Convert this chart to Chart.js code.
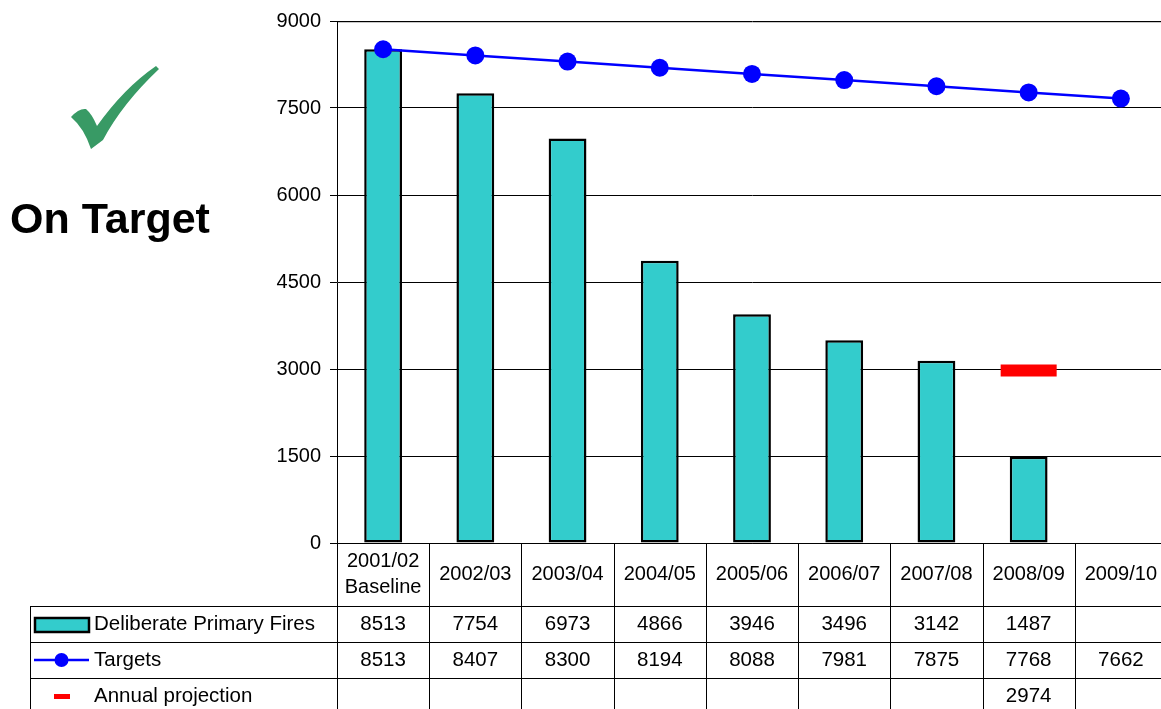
<!DOCTYPE html>
<html>
<head>
<meta charset="utf-8">
<script src="https://cdn.jsdelivr.net/npm/chart.js@4.4.0/dist/chart.umd.min.js"></script>
<style>
  html, body { margin: 0; padding: 0; background: #fff; overflow: hidden; }
  #wrap { position: relative; width: 1161px; height: 709px; overflow: hidden; }
  canvas { position: absolute; left: 0; top: 0; }
</style>
</head>
<body>
<div id="wrap"><canvas id="chart" width="1210" height="709"></canvas></div>
<script>
const categories = [["2001/02", "Baseline"], "2002/03", "2003/04", "2004/05", "2005/06", "2006/07", "2007/08", "2008/09", "2009/10"];
const fires = [8513, 7754, 6973, 4866, 3946, 3496, 3142, 1487, null];
const targets = [8513, 8407, 8300, 8194, 8088, 7981, 7875, 7768, 7662];
const projection = [null, null, null, null, null, null, null, 2974, null];
const seriesNames = ["Deliberate Primary Fires", "Targets", "Annual projection"];
const yMin = 0, yMax = 9000, yStep = 1500;

const FONT = "'Liberation Sans', Arial, sans-serif";
Chart.defaults.font.family = FONT;
Chart.defaults.color = "#000";

// where the plot area should sit on the page
const plotTop = 21, plotRight = 1167;

// table under the plot + the "On Target" stamp on the left
const tablePlugin = {
  id: "dataTable",
  afterDraw(chart) {
    const ctx = chart.ctx;
    const xs = chart.scales.x;
    const area = chart.chartArea;
    const W = chart.width, H = chart.height;
    const step = xs.getPixelForValue(1) - xs.getPixelForValue(0);
    const headBottom = area.bottom + 63;
    const rowH = 36;
    const tableLeft = 30;

    ctx.save();
    ctx.strokeStyle = "#000";
    ctx.lineWidth = 1;
    ctx.beginPath();
    for (let i = 0; i <= categories.length; i++) {
      const x = Math.round(xs.getPixelForValue(i) - step / 2) + 0.5;
      ctx.moveTo(x, area.bottom);
      ctx.lineTo(x, H);
    }
    ctx.moveTo(tableLeft + 0.5, headBottom);
    ctx.lineTo(tableLeft + 0.5, H);
    for (let r = 0; r < 3; r++) {
      const y = headBottom + r * rowH + 0.5;
      ctx.moveTo(tableLeft, y);
      ctx.lineTo(W, y);
    }
    ctx.stroke();

    // faint plot-area frame line just under the top gridline
    ctx.strokeStyle = "#c8c8c8";
    ctx.beginPath();
    ctx.moveTo(area.left + 1, Math.round(area.top) + 1.5);
    ctx.lineTo(area.right, Math.round(area.top) + 1.5);
    ctx.stroke();

    // values
    const rows = [fires, targets, projection];
    ctx.fillStyle = "#000";
    ctx.font = "20.5px " + FONT;
    ctx.textAlign = "center";
    ctx.textBaseline = "middle";
    rows.forEach((vals, r) => {
      const yMid = headBottom + r * rowH + rowH / 2 + 0.5;
      vals.forEach((v, i) => {
        if (v === null) return;
        ctx.fillText(String(v), xs.getPixelForValue(i), yMid);
      });
    });

    // legend keys inside the table
    const ds = chart.data.datasets;
    const bar = ds.find(d => d.label === seriesNames[0]);
    const line = ds.find(d => d.label === seriesNames[1]);
    const proj = ds.find(d => d.label === seriesNames[2]);
    let y = headBottom + rowH / 2 + 1;
    ctx.fillStyle = bar.backgroundColor;
    ctx.fillRect(35, y - 7, 54, 14);
    ctx.lineWidth = 2.5;
    ctx.strokeStyle = bar.borderColor;
    ctx.strokeRect(35, y - 7, 54, 14);

    y = headBottom + rowH * 1.5;
    ctx.strokeStyle = line.borderColor;
    ctx.lineWidth = line.borderWidth;
    ctx.beginPath();
    ctx.moveTo(34, y);
    ctx.lineTo(89, y);
    ctx.stroke();
    ctx.fillStyle = line.pointBackgroundColor;
    ctx.beginPath();
    ctx.arc(61.5, y, 7, 0, Math.PI * 2);
    ctx.fill();

    y = headBottom + rowH * 2.5;
    ctx.fillStyle = proj.pointBorderColor;
    ctx.fillRect(54, y - 2, 16, 5);

    ctx.fillStyle = "#000";
    ctx.textAlign = "left";
    seriesNames.forEach((name, r) => {
      ctx.fillText(name, 94, headBottom + r * rowH + rowH / 2 + 0.5);
    });

    // stamp
    ctx.fillStyle = "#389a65";
    ctx.beginPath();
    ctx.moveTo(71, 117);
    ctx.quadraticCurveTo(79, 108, 86, 109);
    ctx.quadraticCurveTo(92, 114, 97, 126);
    ctx.quadraticCurveTo(124, 88, 156, 66);
    ctx.lineTo(159, 69);
    ctx.quadraticCurveTo(122, 104, 103, 140);
    ctx.lineTo(91, 149);
    ctx.quadraticCurveTo(84, 128, 71, 117);
    ctx.closePath();
    ctx.fill();

    ctx.fillStyle = "#000";
    ctx.font = "bold 43px " + FONT;
    ctx.textAlign = "left";
    ctx.textBaseline = "alphabetic";
    ctx.fillText("On Target", 10, 233);
    ctx.restore();
  }
};

const chart = new Chart(document.getElementById("chart"), {
  data: {
    labels: categories,
    datasets: [
      {
        type: "line",
        label: seriesNames[2],
        data: projection,
        showLine: false,
        pointStyle: "line",
        pointRadius: 28,
        pointHoverRadius: 28,
        pointBorderWidth: 12,
        pointBorderColor: "#ff0000",
        borderColor: "#ff0000",
        order: 0
      },
      {
        type: "line",
        label: seriesNames[1],
        data: targets,
        borderColor: "#0000ff",
        borderWidth: 2.5,
        pointBackgroundColor: "#0000ff",
        pointBorderColor: "#0000ff",
        pointBorderWidth: 0,
        pointRadius: 9,
        tension: 0,
        order: 1
      },
      {
        type: "bar",
        label: seriesNames[0],
        data: fires,
        backgroundColor: "#33cccc",
        borderColor: "#000",
        borderWidth: 2.5,
        borderSkipped: false,
        barPercentage: 0.41,
        categoryPercentage: 1,
        order: 2
      }
    ]
  },
  options: {
    responsive: false,
    animation: false,
    layout: { autoPadding: false, padding: { top: 21, right: 43, bottom: 103, left: 0 } },
    plugins: {
      legend: { display: false },
      tooltip: { enabled: false }
    },
    scales: {
      x: {
        offset: true,
        grid: { display: false, drawTicks: false },
        border: { display: true, color: "#000", width: 1 },
        ticks: {
          font: { size: 20, lineHeight: 1.3 },
          color: "#000",
          padding: 18,
          crossAlign: "center",
          maxRotation: 0,
          autoSkip: false
        },
        afterFit(scale) { scale.height = 63; }
      },
      y: {
        min: yMin,
        max: yMax,
        grid: { color: "#000", lineWidth: 1, tickLength: 7 },
        border: { display: true, color: "#000", width: 1 },
        ticks: {
          stepSize: yStep,
          font: { size: 20 },
          color: "#000",
          padding: 9,
          callback: v => String(v)
        },
        afterFit(scale) { scale.width = 337; }
      }
    }
  },
  plugins: [tablePlugin]
});

// nudge the padding if the plot area did not land where it is in the original
const a = chart.chartArea;
if (Math.abs(a.top - plotTop) > 0.5 || Math.abs(a.right - plotRight) > 0.5) {
  const p = chart.options.layout.padding;
  chart.options.layout.padding = {
    top: Math.max(0, p.top - (a.top - plotTop)),
    right: p.right + (a.right - plotRight),
    bottom: p.bottom,
    left: p.left
  };
  chart.update();
}
</script>
</body>
</html>
